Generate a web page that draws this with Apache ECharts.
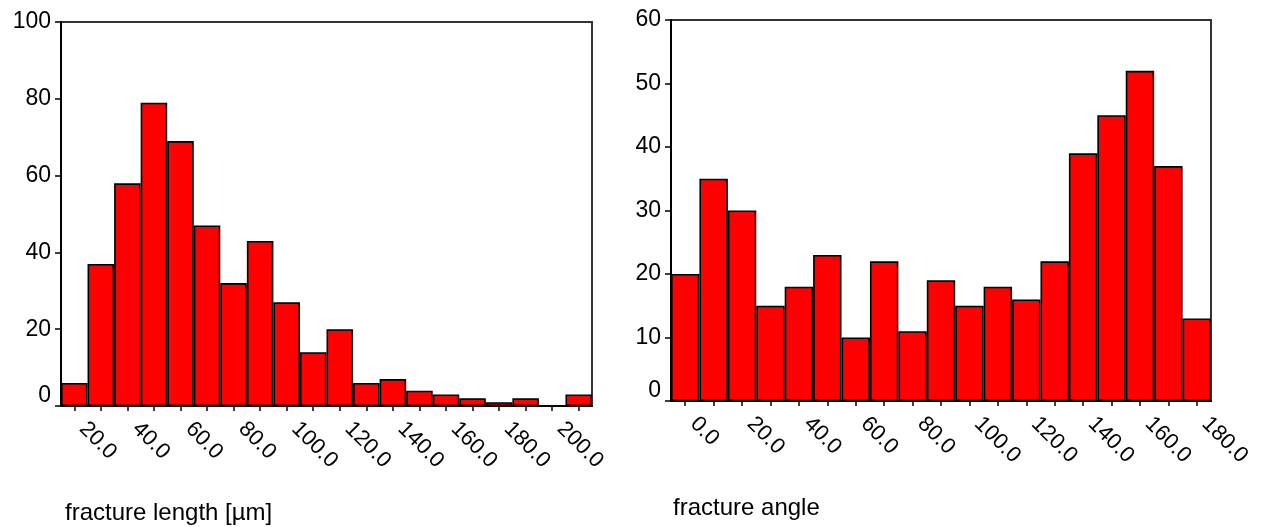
<!DOCTYPE html>
<html>
<head>
<meta charset="utf-8">
<script src="https://cdn.jsdelivr.net/npm/echarts@6/dist/echarts.min.js"></script>
<style>html,body{margin:0;padding:0;background:#fff}#c{width:1265px;height:527px}</style>
</head>
<body>
<div id="c"></div>
<script>
// Left histogram: fracture length, bin centers 20..210
const lengthBins = ['20.0','30.0','40.0','50.0','60.0','70.0','80.0','90.0','100.0','110.0','120.0','130.0','140.0','150.0','160.0','170.0','180.0','190.0','200.0','210.0'];
const lengthCounts = [6, 37, 58, 79, 69, 47, 32, 43, 27, 14, 20, 6, 7, 4, 3, 2, 1, 2, 0, 3];
// Right histogram: fracture angle, bin centers 0..180
const angleBins = ['0.0','10.0','20.0','30.0','40.0','50.0','60.0','70.0','80.0','90.0','100.0','110.0','120.0','130.0','140.0','150.0','160.0','170.0','180.0'];
const angleCounts = [20, 35, 30, 15, 18, 23, 10, 22, 11, 19, 15, 18, 16, 22, 39, 45, 52, 37, 13];
const lengthTitle = 'fracture length [µm]';
const angleTitle = 'fracture angle';

const FONT = '"Liberation Sans", Arial, sans-serif';
const chart = echarts.init(document.getElementById('c'), null, {renderer: 'canvas'});

function xAxisCfg(gridIndex, data) {
  return {
    type: 'category', gridIndex: gridIndex, data: data,
    axisLine: {show: true, lineStyle: {color: '#000', width: 2}},
    axisTick: {show: true, interval: 0, alignWithLabel: true, length: 5, lineStyle: {color: '#000', width: 1.5}},
    axisLabel: {interval: 1, rotate: -45, margin: 11, padding: [0, 0, 0, 12], fontSize: 22, color: '#000', fontFamily: FONT},
    splitLine: {show: false}
  };
}
function yAxisCfg(gridIndex, max, interval) {
  return {
    type: 'value', gridIndex: gridIndex, min: 0, max: max, interval: interval,
    axisLine: {show: true, lineStyle: {color: '#000', width: 2}},
    axisTick: {show: true, length: 6, lineStyle: {color: '#000', width: 1.5}},
    axisLabel: {
      fontSize: 23, color: '#000', fontFamily: FONT, margin: 10,
      formatter: function (v) { return v === 0 ? '{z|0}' : String(v); },
      rich: {z: {fontSize: 23, color: '#000', fontFamily: FONT, padding: [0, 0, 20, 0]}}
    },
    splitLine: {show: false}
  };
}
function barSeries(idx, data) {
  return {
    type: 'bar', xAxisIndex: idx, yAxisIndex: idx, data: data,
    barCategoryGap: '0%',
    itemStyle: {color: '#ff0000', borderColor: '#000', borderWidth: 1.6},
    emphasis: {disabled: true}
  };
}

chart.setOption({
  animation: false,
  backgroundColor: '#fff',
  textStyle: {fontFamily: FONT},
  title: [
    {text: lengthTitle, left: 60, top: 496, textStyle: {fontSize: 24, fontWeight: 'normal', color: '#000', fontFamily: FONT}},
    {text: angleTitle, left: 668, top: 491, textStyle: {fontSize: 24, fontWeight: 'normal', color: '#000', fontFamily: FONT}}
  ],
  grid: [
    {left: 61, right: 673, top: 22, bottom: 121, show: true, borderColor: '#333', borderWidth: 2, backgroundColor: 'transparent'},
    {left: 671, right: 54, top: 20, bottom: 126, show: true, borderColor: '#333', borderWidth: 2, backgroundColor: 'transparent'}
  ],
  xAxis: [xAxisCfg(0, lengthBins), xAxisCfg(1, angleBins)],
  yAxis: [yAxisCfg(0, 100, 20), yAxisCfg(1, 60, 10)],
  series: [barSeries(0, lengthCounts), barSeries(1, angleCounts)]
});
</script>
</body>
</html>
